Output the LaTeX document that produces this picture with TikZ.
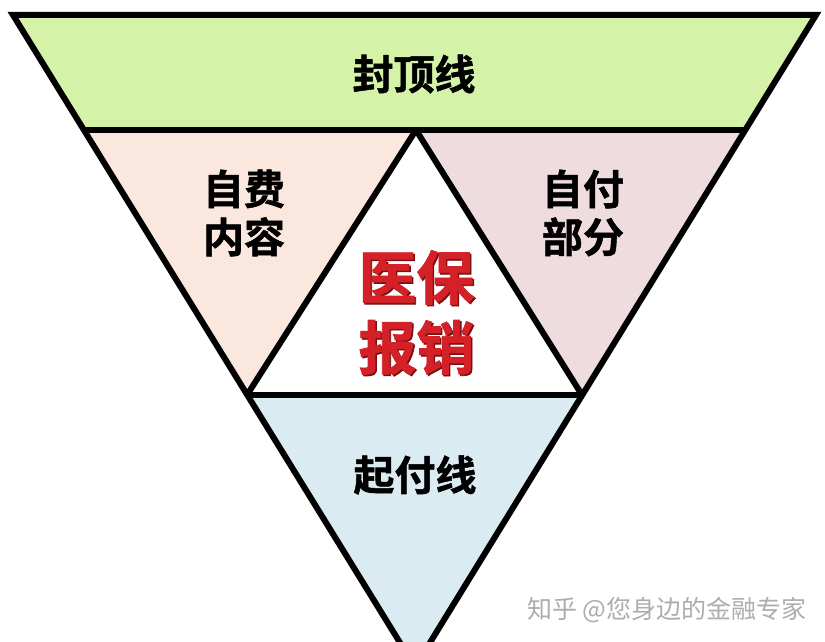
\documentclass[tikz,border=0pt]{standalone}
\usepackage{fontspec}
\newfontfamily\cjk{Noto Sans CJK SC}[BoldFont={Noto Sans CJK SC Bold}]
\newfontfamily\cjkheavy{Noto Sans CJK SC Bold}[FakeBold=1.3]
\definecolor{topgreen}{HTML}{D5F2A9}
\definecolor{leftpeach}{HTML}{FAE7DD}
\definecolor{rightpink}{HTML}{EEDCDE}
\definecolor{botblue}{HTML}{DAEBF2}
\definecolor{redtxt}{HTML}{D42128}
\definecolor{redshadow}{HTML}{7A0E10}
\definecolor{wmgray}{HTML}{ADADAD}
\begin{document}
\begin{tikzpicture}[x=1pt,y=-1pt,
  edge/.style={draw=black,line width=6pt,line join=miter},
  blacklabel/.style={font=\cjkheavy\fontsize{41}{50}\selectfont,text=black,align=center,inner sep=0pt},
  redlabel/.style={font=\cjkheavy\fontsize{58}{70}\selectfont,inner sep=0pt},
  wmlabel/.style={font=\cjk\fontsize{25}{30}\selectfont,text=wmgray,inner sep=0pt}]
\useasboundingbox (0,0) rectangle (825,642);
\clip (0,0) rectangle (825,642);
\fill[white] (0,0) rectangle (825,642);
% vertices
\coordinate (A) at (13,15);
\coordinate (B) at (816,15);
\coordinate (L1) at (84,130);
\coordinate (R1) at (745,130);
\coordinate (M) at (416,130);
\coordinate (L2) at (247,395);
\coordinate (R2) at (582,395);
\coordinate (O) at (415,667);
% fills
\fill[topgreen] (A) -- (B) -- (R1) -- (L1) -- cycle;
\fill[leftpeach] (L1) -- (M) -- (L2) -- cycle;
\fill[rightpink] (M) -- (R1) -- (R2) -- cycle;
\fill[white] (M) -- (L2) -- (R2) -- cycle;
\fill[botblue] (L2) -- (R2) -- (O) -- cycle;
% lines
\draw[edge] (A) -- (B) -- (O) -- cycle;
\draw[edge,line join=bevel] (L2) -- (M) -- (R2);
\draw[edge] (L1) -- (R1);
\draw[edge] (L2) -- (R2);
% labels
\node[blacklabel] (top) at (414,74) {封顶线};
\node[blacklabel] (left) at (244,213) {自费\\[-2pt]内容};
\node[blacklabel] (right) at (583,213) {自付\\[-2pt]部分};
\node[blacklabel] (bottom) at (415,475) {起付线};
\node[redlabel,text=redshadow,align=center] (redsh) at (418,314) {医保\\[0pt]报销};
\node[redlabel,text=redtxt,align=center] (red) at (416.5,312.5) {医保\\[0pt]报销};
\node[wmlabel,text=white] (wmsh) at (668.5,611.5) {知乎 @您身边的金融专家};
\node[wmlabel] (wm) at (667,610) {知乎 @您身边的金融专家};
\end{tikzpicture}
\end{document}
